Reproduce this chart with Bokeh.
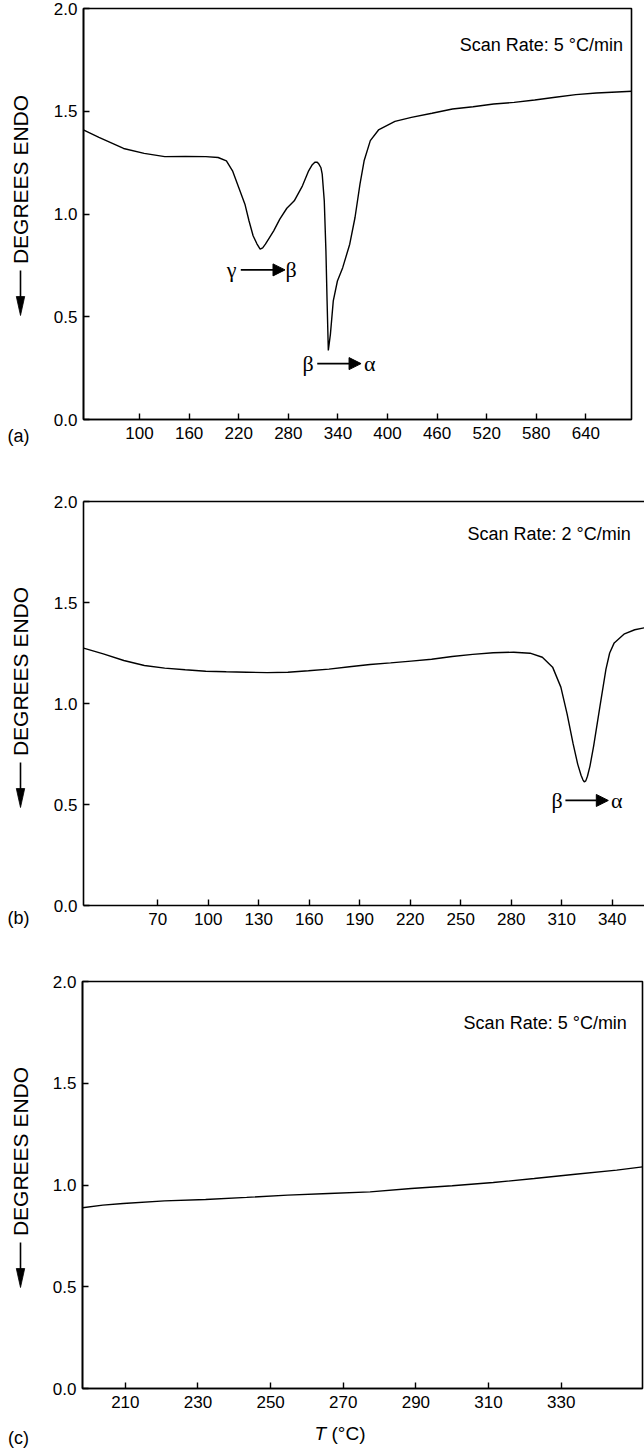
import math
from bokeh.plotting import figure
from bokeh.layouts import column, row
from bokeh.models import (Range1d, FixedTicker, PrintfTickFormatter, Label, Arrow, NormalHead,
                          LinearAxis)
from bokeh.embed import file_html
from bokeh.resources import INLINE

# ---------------- data ----------------
a_temp = [32, 50.9, 80.7, 105.6, 130.5, 155.4, 180.2, 195.1, 205.1, 212.5, 220, 227.5,
          232.4, 237.4, 242.0, 245.9, 249.0, 252.3, 262.3, 269.7, 278.2, 287.2, 297.1, 304.6,
          309.0, 312.1, 315.0, 317.0, 319.5, 321.0, 323.5, 325.5, 326.9, 328.4, 330.9,
          334.4, 339.4, 345.8, 354.3, 360.7, 366.7, 371.7, 379.2, 389.1, 409, 428.9, 453.8,
          478.6, 503.5, 528.4, 553.2, 578.1, 603, 627.8, 652.7, 677.6, 696]
a_signal = [1.409, 1.373, 1.319, 1.295, 1.279, 1.280, 1.279, 1.275, 1.259, 1.210, 1.129, 1.048,
            0.967, 0.894, 0.855, 0.829, 0.835, 0.853, 0.918, 0.975, 1.028, 1.064, 1.137, 1.210,
            1.240, 1.252, 1.252, 1.243, 1.225, 1.194, 1.064, 0.820, 0.577, 0.336, 0.414,
            0.577, 0.674, 0.739, 0.853, 0.983, 1.145, 1.259, 1.357, 1.409, 1.451, 1.470, 1.490,
            1.511, 1.522, 1.535, 1.543, 1.555, 1.568, 1.581, 1.589, 1.594, 1.597]

b_temp = [25.9, 37.6, 49.8, 62, 74.1, 86.3, 98.5, 110.7, 122.9, 135.1, 147.3, 159.5, 171.7,
          183.9, 196.1, 208.3, 220.5, 232.7, 244.9, 257.1, 269.3, 281.5, 291.2, 298.5,
          304.6, 309.5, 313.2, 316.8, 319.5, 321.5, 322.6, 323.4, 324.3, 325.3, 326.8,
          329, 332.7, 336.3, 338.5, 341.2, 347.3, 353.4, 359.2]
b_signal = [1.274, 1.246, 1.213, 1.188, 1.175, 1.167, 1.160, 1.157, 1.155, 1.153, 1.155, 1.162,
            1.170, 1.182, 1.193, 1.201, 1.210, 1.219, 1.233, 1.243, 1.251, 1.254, 1.249,
            1.229, 1.180, 1.081, 0.949, 0.800, 0.700, 0.645, 0.622, 0.612, 0.617, 0.640, 0.690,
            0.790, 0.985, 1.170, 1.250, 1.300, 1.345, 1.365, 1.375]

c_temp = [198.2, 203.8, 209.4, 220.8, 232.1, 243.4, 254.7, 266, 277.4, 288.7, 300, 311.3,
          322.6, 333.9, 345.3, 352.4]
c_signal = [0.888, 0.901, 0.909, 0.922, 0.929, 0.939, 0.950, 0.958, 0.966, 0.983, 0.996,
            1.012, 1.032, 1.053, 1.073, 1.089]

a_ticks = [100, 160, 220, 280, 340, 400, 460, 520, 580, 640]
b_ticks = [70, 100, 130, 160, 190, 220, 250, 280, 310, 340]
c_ticks = [210, 230, 250, 270, 290, 310, 330]
y_ticks = [0.0, 0.5, 1.0, 1.5, 2.0]

panel_tags = ["(a)", "(b)", "(c)"]
scan_rates = ["Scan Rate: 5 °C/min", "Scan Rate: 2 °C/min", "Scan Rate: 5 °C/min"]
y_title = "DEGREES ENDO"

SANS = "Liberation Sans"
SERIF = "Liberation Serif"
LW = 40  # width of the strip that carries the y title


def blank(width, height):
    """A figure whose data space equals its pixel space (y downward), for outside texts."""
    p = figure(width=width, height=height, output_backend="svg", toolbar_location=None,
               x_range=Range1d(0, width), y_range=Range1d(height, 0),
               x_axis_type=None, y_axis_type=None, frame_align=False,
               min_border_left=0, min_border_right=0, min_border_top=0, min_border_bottom=0)
    p.outline_line_color = None
    p.background_fill_color = "white"
    p.border_fill_color = "white"
    return p


def title_strip(height, text_cy, arrow_y0, arrow_y1, tag=None, tag_y=None):
    s = blank(LW, height)
    s.add_layout(Label(x=20, y=text_cy, text=y_title, angle=math.pi / 2,
                       text_align="center", text_baseline="middle", text_font=SANS,
                       text_font_size="21px", text_color="black"))
    s.line([20, 20], [arrow_y0, arrow_y1 - 17], line_color="black", line_width=1.6)
    s.patch([15.8, 24.2, 20], [arrow_y1 - 19, arrow_y1 - 19, arrow_y1],
            fill_color="black", line_color="black", line_width=0.8)
    if tag is not None:
        s.add_layout(Label(x=18, y=tag_y, text=tag, text_align="center",
                           text_baseline="middle", text_font=SANS, text_font_size="18px",
                           text_color="black"))
    return s


def make_panel(temp, signal, ticks, xr, height, top, bottom, left, right,
               scan_text, scan_xy, open_right=False):
    p = figure(width=644 - LW, height=height, output_backend="svg", toolbar_location=None,
               x_range=Range1d(*xr), y_range=Range1d(0, 2), frame_align=False,
               min_border_top=top, min_border_bottom=bottom,
               min_border_left=left, min_border_right=right)
    p.background_fill_color = "white"
    p.border_fill_color = "white"
    p.xgrid.visible = False
    p.ygrid.visible = False
    xax = p.below[0]
    yax = p.left[0]
    for ax in (xax, yax):
        ax.axis_line_width = 1.6
        ax.axis_line_color = "black"
        ax.major_tick_in = 6
        ax.major_tick_out = 0
        ax.major_tick_line_width = 1.4
        ax.minor_tick_line_color = None
        ax.major_label_text_font = SANS
        ax.major_label_text_font_size = "17px"
        ax.major_label_text_color = "black"
    xax.ticker = FixedTicker(ticks=ticks)
    yax.ticker = FixedTicker(ticks=y_ticks)
    yax.formatter = PrintfTickFormatter(format="%.1f")
    xax.major_label_standoff = 7
    yax.major_label_standoff = 6

    if open_right:
        # frame cut at the page edge: only the top edge is drawn besides the axes
        p.outline_line_color = None
        top_axis = LinearAxis(ticker=FixedTicker(ticks=[]), axis_line_width=1.6,
                              axis_line_color="black", major_tick_line_color=None,
                              minor_tick_line_color=None, major_label_text_color=None)
        p.add_layout(top_axis, "above")
    else:
        p.outline_line_color = "black"
        p.outline_line_width = 1.6

    p.line(temp, signal, line_color="black", line_width=1.4)

    p.add_layout(Label(x=scan_xy[0], y=scan_xy[1], text=scan_text, text_align="right",
                       text_baseline="middle", text_font=SANS, text_font_size="18px",
                       text_color="black"))
    return p


def transition(p, left_sym, right_sym, x_left, x_start, x_end, x_right, y):
    for xx, sym in ((x_left, left_sym), (x_right, right_sym)):
        p.add_layout(Label(x=xx, y=y, text=sym, text_align="center",
                           text_baseline="middle", text_font=SERIF, text_font_size="22px",
                           text_color="black"))
    p.add_layout(Arrow(x_start=x_start, y_start=y, x_end=x_end, y_end=y, line_width=1.8,
                       line_color="black",
                       end=NormalHead(size=12, fill_color="black", line_color="black")))


# panel (a): canvas rows 0-470, frame 8..419
pa = make_panel(a_temp, a_signal, a_ticks, (32.2, 695.2), 470, 8, 51, 83 - LW, 13,
                scan_rates[0], (685, 1.82))
transition(pa, "γ", "β", 211.5, 222.5, 276, 283.5, 0.728)
transition(pa, "β", "α", 304, 315, 368, 378.5, 0.272)
sa = title_strip(470, 179, 270, 315, panel_tags[0], 435)

# panel (b): canvas rows 470-940, frame 501..905
pb = make_panel(b_temp, b_signal, b_ticks, (25.85, 359.2), 470, 31, 35, 83 - LW, 0,
                scan_rates[1], (351, 1.84), open_right=True)
transition(pb, "β", "α", 307.2, 312.2, 337.7, 342.7, 0.52)
sb = title_strip(470, 201, 292, 337, panel_tags[1], 447)

# panel (c): canvas rows 940-1418, frame 981..1388
pc = make_panel(c_temp, c_signal, c_ticks, (198.2, 352.4), 478, 41, 30, 82 - LW, 2,
                scan_rates[2], (348.1, 1.794))
sc = title_strip(478, 211, 302, 347)

# bottom strip: x title and panel tag (c)
bottom = blank(644, 31)
bottom.add_layout(Label(x=314, y=15, text="T", text_align="left", text_baseline="middle",
                        text_font=SANS, text_font_style="italic", text_font_size="19px",
                        text_color="black"))
bottom.add_layout(Label(x=331, y=15, text="(°C)", text_align="left", text_baseline="middle",
                        text_font=SANS, text_font_size="19px", text_color="black"))
bottom.add_layout(Label(x=18, y=19, text=panel_tags[2], text_align="center",
                        text_baseline="middle", text_font=SANS, text_font_size="18px",
                        text_color="black"))

layout = column(row(sa, pa, spacing=0), row(sb, pb, spacing=0), row(sc, pc, spacing=0),
                bottom, spacing=0)
open("out.html", "w").write(file_html(layout, INLINE))
